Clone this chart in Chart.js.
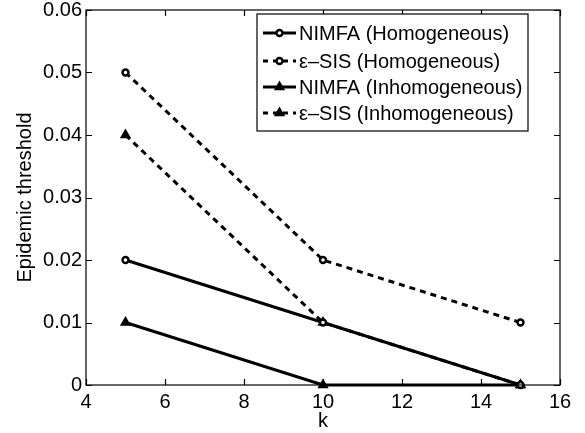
<!DOCTYPE html>
<html>
<head>
<meta charset="utf-8">
<script src="https://cdn.jsdelivr.net/npm/chart.js@4/dist/chart.umd.min.js"></script>
<style>
  html, body { margin: 0; padding: 0; background: #fff; }
  #wrap { width: 585px; height: 433px; }
</style>
</head>
<body>
<div id="wrap"><canvas id="thresholdChart"></canvas></div>
<script>
// k values and thresholds per model
const kValues = [5, 10, 15];
const nimfaHomog = [0.02, 0.01, 0];
const sisHomog = [0.05, 0.02, 0.01];
const nimfaInhomog = [0.01, 0, 0];
const sisInhomog = [0.04, 0.01, 0];

const xTicks = [4, 6, 8, 10, 12, 14, 16];
const yTicks = [0, 0.01, 0.02, 0.03, 0.04, 0.05, 0.06];

const FONT = 'Liberation Sans, Arial, Helvetica, sans-serif';

function toPoints(values) {
    return kValues.map((k, i) => ({ x: k, y: values[i] }));
}

function series(label, values, dashed, marker) {
    const circle = marker === 'circle';
    return {
        label,
        data: toPoints(values),
        borderColor: '#000',
        borderWidth: 3,
        borderDash: dashed ? [6, 5] : [],
        pointStyle: marker,
        pointRadius: circle ? 3 : 4.5,
        pointBorderWidth: circle ? 2.4 : 2,
        pointBackgroundColor: circle ? '#fff' : '#000',
        pointBorderColor: '#000',
        fill: false,
        tension: 0
    };
}

// matlab-like box with inward ticks on all four sides
const boxPlugin = {
    id: 'boxPlugin',
    afterDraw(chart) {
        const { ctx, chartArea: a, scales } = chart;
        ctx.save();
        ctx.strokeStyle = '#000';
        ctx.lineWidth = 1.2;
        ctx.strokeRect(a.left, a.top, a.right - a.left, a.bottom - a.top);
        ctx.beginPath();
        xTicks.forEach(t => {
            const px = Math.round(scales.x.getPixelForValue(t)) + 0.5;
            ctx.moveTo(px, a.bottom); ctx.lineTo(px, a.bottom - 6);
            ctx.moveTo(px, a.top); ctx.lineTo(px, a.top + 6);
        });
        yTicks.forEach(t => {
            const py = Math.round(scales.y.getPixelForValue(t)) + 0.5;
            ctx.moveTo(a.left, py); ctx.lineTo(a.left + 6, py);
            ctx.moveTo(a.right, py); ctx.lineTo(a.right - 6, py);
        });
        ctx.stroke();
        ctx.restore();
    }
};

// legend box in the upper right of the plot
const legendPlugin = {
    id: 'legendPlugin',
    afterDraw(chart) {
        const { ctx } = chart;
        const left = 257, top = 14, right = 528, bottom = 131;
        const rowY = [33, 61, 87, 113];
        ctx.save();
        ctx.fillStyle = '#fff';
        ctx.fillRect(left, top, right - left, bottom - top);
        ctx.strokeStyle = '#000';
        ctx.lineWidth = 1.2;
        ctx.strokeRect(left, top, right - left, bottom - top);
        chart.data.datasets.forEach((ds, i) => {
            const y = rowY[i];
            ctx.beginPath();
            ctx.setLineDash(ds.borderDash.length ? [5, 5] : []);
            ctx.lineWidth = ds.borderWidth;
            ctx.strokeStyle = '#000';
            ctx.moveTo(263, y);
            ctx.lineTo(296, y);
            ctx.stroke();
            ctx.setLineDash([]);
            ctx.fillStyle = ds.pointBackgroundColor;
            ctx.lineWidth = ds.pointBorderWidth;
            Chart.helpers.drawPoint(ctx, {
                pointStyle: ds.pointStyle,
                radius: ds.pointRadius,
                rotation: 0,
                borderWidth: ds.pointBorderWidth
            }, 279.5, y);
            ctx.fillStyle = '#000';
            ctx.font = '20px ' + FONT;
            ctx.textBaseline = 'middle';
            ctx.textAlign = 'left';
            ctx.fillText(ds.label, 299, y + 1);
        });
        ctx.restore();
    }
};

new Chart(document.getElementById('thresholdChart'), {
    type: 'line',
    data: {
        datasets: [
            series('NIMFA (Homogeneous)', nimfaHomog, false, 'circle'),
            series('\u03b5\u2013SIS (Homogeneous)', sisHomog, true, 'circle'),
            series('NIMFA (Inhomogeneous)', nimfaInhomog, false, 'triangle'),
            series('\u03b5\u2013SIS (Inhomogeneous)', sisInhomog, true, 'triangle')
        ]
    },
    options: {
        responsive: true,
        maintainAspectRatio: false,
        animation: false,
        clip: false,
        layout: { padding: { top: 10, right: 25, left: 0, bottom: 0 } },
        plugins: {
            legend: { display: false },
            tooltip: { enabled: false }
        },
        scales: {
            x: {
                type: 'linear',
                min: 4,
                max: 16,
                afterBuildTicks: scale => { scale.ticks = xTicks.map(v => ({ value: v })); },
                afterFit: scale => { scale.height = 48; },
                grid: { display: false, drawTicks: false },
                border: { display: false },
                ticks: {
                    color: '#000',
                    padding: 5,
                    maxRotation: 0,
                    font: { family: FONT, size: 20 }
                },
                title: {
                    display: true,
                    text: 'k',
                    color: '#000',
                    padding: { top: -5, bottom: 0 },
                    font: { family: FONT, size: 20 }
                }
            },
            y: {
                min: 0,
                max: 0.06,
                afterBuildTicks: scale => { scale.ticks = yTicks.map(v => ({ value: v })); },
                afterFit: scale => {
                    scale.width = 86;
                    scale.paddingTop = 0;
                    scale.paddingBottom = 0;
                },
                grid: { display: false, drawTicks: false },
                border: { display: false },
                ticks: {
                    color: '#000',
                    padding: 4,
                    font: { family: FONT, size: 20 },
                    callback: v => (v === 0 ? '0' : v.toFixed(2))
                },
                title: {
                    display: true,
                    text: 'Epidemic threshold',
                    color: '#000',
                    padding: { top: 13, bottom: 0 },
                    font: { family: FONT, size: 20 }
                }
            }
        }
    },
    plugins: [boxPlugin, legendPlugin]
});
</script>
</body>
</html>
